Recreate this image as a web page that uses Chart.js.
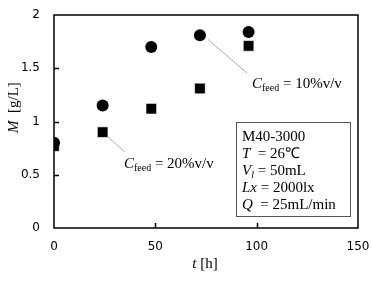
<!DOCTYPE html>
<html>
<head>
<meta charset="utf-8">
<script src="https://cdn.jsdelivr.net/npm/chart.js@4/dist/chart.umd.min.js"></script>
<style>
  html, body { margin: 0; padding: 0; background: #fff; }
</style>
</head>
<body>
<canvas id="massChart" width="372" height="283"></canvas>
<script>
// culture time [h] and cell mass M [g/L]
const hours = [0, 24, 48, 72, 96];
const feed10 = [0.80, 1.15, 1.70, 1.81, 1.84];
const feed20 = [0.77, 0.90, 1.12, 1.31, 1.71];
const xTicks = [0, 50, 100, 150];
const yTicks = [0, 0.5, 1, 1.5, 2];
const infoLines = ['M40-3000', 'T = 26℃', 'Vl = 50mL', 'Lx = 2000lx', 'Q = 25mL/min'];

const SERIF = '"Liberation Serif", "Times New Roman", serif';
const SANS = '"DejaVu Sans", Verdana, sans-serif';

// write a run of [text, font, dy] pieces from x,y
function drawRuns(ctx, runs, x, y) {
  runs.forEach(r => {
    ctx.font = r[1];
    ctx.fillText(r[0], x, y + (r[2] || 0));
    x += ctx.measureText(r[0]).width;
  });
  return x;
}

function cfeedLabel(ctx, x, y, pct) {
  drawRuns(ctx, [
    ['C', 'italic 15px ' + SERIF],
    ['feed', '10px ' + SERIF, 3],
    [' = ' + pct + '%v/v', '15px ' + SERIF]
  ], x, y);
}

const decorations = {
  id: 'decorations',
  beforeDatasetsDraw(chart) {
    const { ctx, scales: { x, y } } = chart;
    ctx.save();
    ctx.strokeStyle = '#9a9a9a';
    ctx.lineWidth = 0.8;
    ctx.beginPath();
    ctx.moveTo(x.getPixelForValue(76), y.getPixelForValue(1.77));
    ctx.lineTo(x.getPixelForValue(95.2), y.getPixelForValue(1.455));
    ctx.moveTo(x.getPixelForValue(26.6), y.getPixelForValue(0.855));
    ctx.lineTo(x.getPixelForValue(35), y.getPixelForValue(0.714));
    ctx.stroke();
    ctx.restore();
  },
  afterDraw(chart) {
    const { ctx, chartArea: a, scales: { x, y } } = chart;
    ctx.save();
    // frame
    ctx.strokeStyle = '#000';
    ctx.lineWidth = 1.5;
    ctx.strokeRect(a.left, a.top, a.right - a.left, a.bottom - a.top);
    // inward ticks
    ctx.beginPath();
    yTicks.slice(1, -1).forEach(v => {
      const py = Math.round(y.getPixelForValue(v)) + 0.5;
      ctx.moveTo(a.left, py);
      ctx.lineTo(a.left + 5, py);
    });
    xTicks.slice(1, -1).forEach(v => {
      const px = Math.round(x.getPixelForValue(v)) + 0.5;
      ctx.moveTo(px, a.bottom);
      ctx.lineTo(px, a.bottom - 5);
    });
    ctx.stroke();

    ctx.fillStyle = '#000';
    ctx.textBaseline = 'alphabetic';
    ctx.textAlign = 'left';
    cfeedLabel(ctx, x.getPixelForValue(97.7), y.getPixelForValue(1.315), 10);
    cfeedLabel(ctx, x.getPixelForValue(34.5), y.getPixelForValue(0.563), 20);

    // info box
    const bx0 = x.getPixelForValue(89.8), bx1 = x.getPixelForValue(146);
    const by0 = y.getPixelForValue(0.995), by1 = y.getPixelForValue(0.113);
    ctx.fillStyle = '#fff';
    ctx.fillRect(bx0, by0, bx1 - bx0, by1 - by0);
    ctx.strokeStyle = '#555';
    ctx.lineWidth = 1;
    ctx.strokeRect(Math.round(bx0) + 0.5, Math.round(by0) + 0.5, Math.round(bx1 - bx0), Math.round(by1 - by0));
    ctx.fillStyle = '#000';
    const reg = '15px ' + SERIF, ital = 'italic 15px ' + SERIF;
    const tx = bx0 + 6;
    let ty = by0 + 19;
    const rows = [
      [[infoLines[0], reg]],
      [['T', ital], ['  = 26℃', reg]],
      [['V', ital], ['l', 'italic 10px ' + SERIF, 3], [' = 50mL', reg]],
      [['Lx', ital], [' = 2000lx', reg]],
      [['Q', ital], ['  = 25mL/min', reg]]
    ];
    rows.forEach(r => { drawRuns(ctx, r, tx, ty); ty += 17; });

    // axis titles
    ctx.save();
    ctx.translate(18, 133);
    ctx.rotate(-Math.PI / 2);
    drawRuns(ctx, [['M', 'italic 15px ' + SERIF], ['  [g/L]', '15px ' + SERIF]], 0, 0);
    ctx.restore();
    ctx.font = 'italic 15px ' + SERIF;
    const w1 = ctx.measureText('t').width;
    ctx.font = '15px ' + SERIF;
    const w2 = ctx.measureText(' [h]').width;
    const cx = (a.left + a.right) / 2 - 1;
    drawRuns(ctx, [['t', 'italic 15px ' + SERIF], [' [h]', '15px ' + SERIF]], cx - (w1 + w2) / 2, 268);
    ctx.restore();
  }
};

const ctx = document.getElementById('massChart').getContext('2d');

new Chart(ctx, {
  type: 'scatter',
  data: {
    datasets: [{
      label: '10%v/v',
      data: hours.map((h, i) => ({ x: h, y: feed10[i] })),
      pointStyle: 'circle',
      pointRadius: 6,
      backgroundColor: '#000',
      borderColor: '#000',
      borderWidth: 0
    }, {
      label: '20%v/v',
      data: hours.map((h, i) => ({ x: h, y: feed20[i] })),
      pointStyle: 'rect',
      pointRadius: 7.5,
      backgroundColor: '#000',
      borderColor: '#fff',
      borderWidth: 0.6
    }]
  },
  options: {
    responsive: false,
    animation: false,
    events: [],
    layout: { padding: { top: 15, right: 14, left: 0, bottom: 0 } },
    plugins: {
      legend: { display: false },
      tooltip: { enabled: false }
    },
    scales: {
      x: {
        type: 'linear',
        min: 0,
        max: 150,
        afterBuildTicks: s => { s.ticks = xTicks.map(v => ({ value: v })); },
        afterFit: s => { s.height = 55; s.paddingLeft = 0; s.paddingRight = 0; },
        grid: { display: false, drawTicks: false },
        border: { display: false },
        ticks: { color: '#000', padding: 12, maxRotation: 0, font: { family: SANS, size: 12 } }
      },
      y: {
        min: 0,
        max: 2,
        afterBuildTicks: s => { s.ticks = yTicks.map(v => ({ value: v })); },
        afterFit: s => { s.width = 54; s.paddingTop = 0; s.paddingBottom = 0; },
        grid: { display: false, drawTicks: false },
        border: { display: false },
        ticks: { color: '#000', padding: 14, font: { family: SANS, size: 12 }, callback: v => String(v) }
      }
    }
  },
  plugins: [decorations]
});
</script>
</body>
</html>
